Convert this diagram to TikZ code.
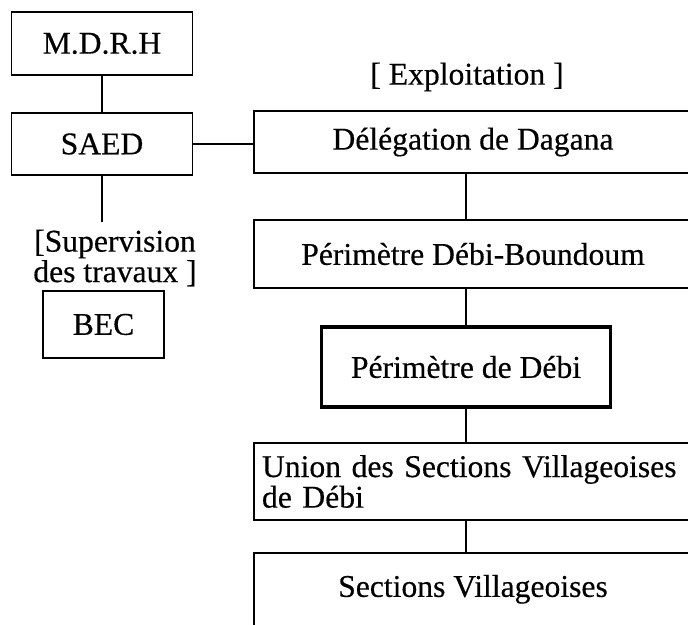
\documentclass[tikz,border=0pt]{standalone}
\usepackage{fontspec}
\setmainfont{Liberation Serif}[FakeBold = 0.4]
\usetikzlibrary{positioning}

\begin{document}
\begin{tikzpicture}[font = \fontsize{18}{16}\selectfont,
	box/.style = {draw, line width = 1pt, inner sep = 0pt, minimum height = 1.26 cm},
	wide/.style = {box, minimum width = 8.76 cm},
	title/.style = {align = center, inner sep = 0pt}]

	\useasboundingbox (0, 0) rectangle (13.76, 12.5);

	% Left column

	\node [box, minimum width = 3.62 cm] (mdrh) at (2.04, 11.63) {M.D.R.H};
	\node [box, minimum width = 3.62 cm, minimum height = 1.24 cm] (saed) at (2.04, 9.62) {SAED};
	\node [title] (sup) at (2.3, 7.34) {[Supervision\\des travaux ]};
	\node [box, minimum width = 2.42 cm, minimum height = 1.34 cm] (bec) at (2.07, 6.01) {BEC};

	\draw [line width = 1pt] (mdrh) -- (saed);
	\draw [line width = 1pt] (saed.south) -- (saed.south |- 0, 8.06);

	% Right column

	\node [title] (expl) at (9.34, 10.96) {[ Exploitation ]};
	\node [wide, minimum height = 1.24 cm] (deleg) at (9.46, 9.66) {Délégation de Dagana};
	\node [wide, minimum height = 1.36 cm] (perimdb) at (9.46, 7.42) {Périmètre Débi-Boundoum};
	\node [box, line width = 2pt, minimum width = 5.78 cm, minimum height = 1.6 cm] (perim) at (9.32, 5.16) {Périmètre de Débi};
	\node [wide, minimum height = 1.54 cm, text width = 8.44 cm, align = left, inner xsep = 0.16 cm] (union) at (9.46, 2.87) {Union des Sections Villageoises\\de Débi};
	\node [wide, anchor = north, text height = 0.78 cm, text depth = 1.2 cm, inner ysep = 0.1 cm] (sect) at (9.46, 1.46) {Sections Villageoises};

	% Connectors

	\draw [line width = 1pt] (saed.east) -- (saed.east -| deleg.west);
	\draw [line width = 1pt] (deleg.south -| perim) -- (perimdb.north -| perim);
	\draw [line width = 1pt] (perimdb.south -| perim) -- (perim.north);
	\draw [line width = 1pt] (perim.south) -- (union.north -| perim);
	\draw [line width = 1pt] (union.south -| perim) -- (sect.north -| perim);

\end{tikzpicture}
\end{document}
